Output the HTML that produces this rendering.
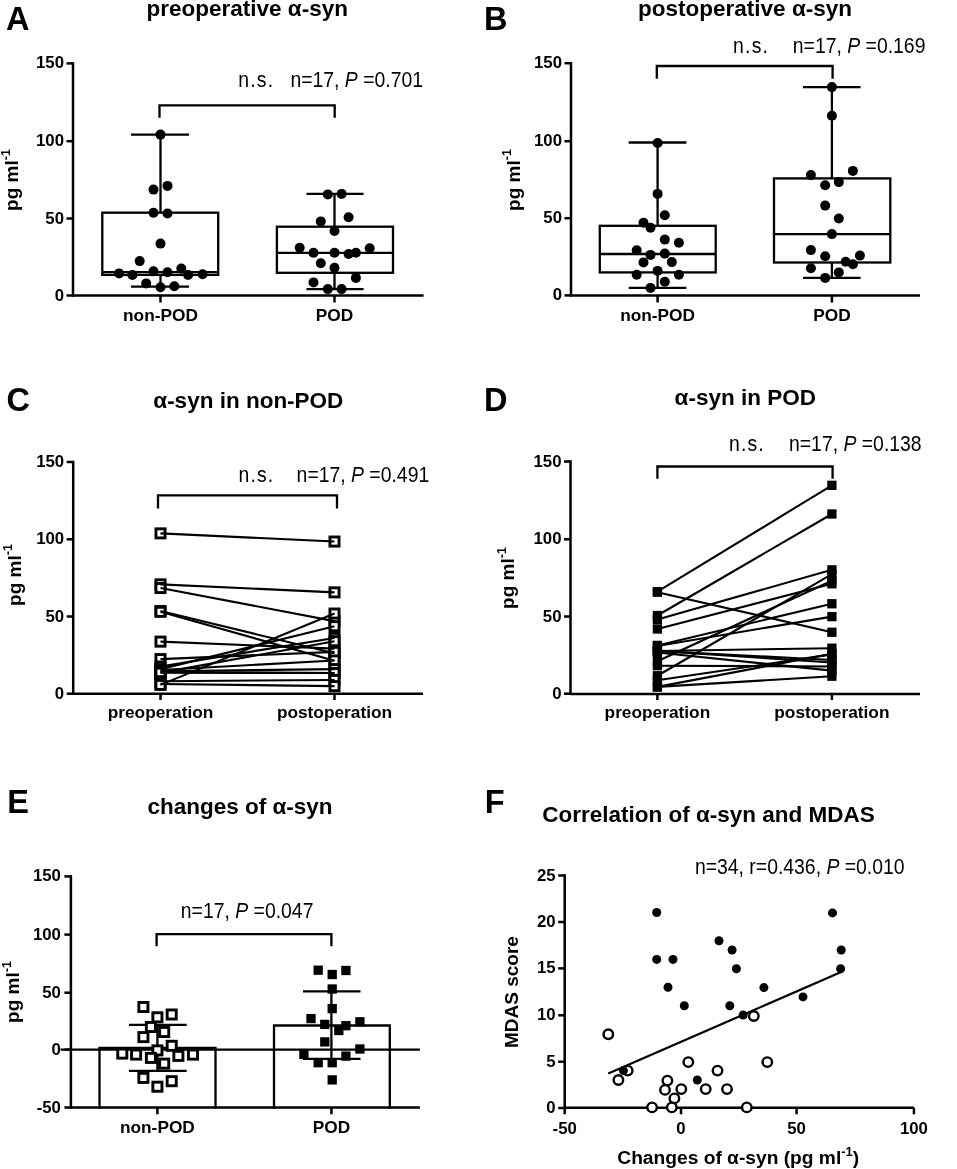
<!DOCTYPE html>
<html><head><meta charset="utf-8"><style>
html,body{margin:0;padding:0;background:#fff;}
svg{display:block;will-change:transform;}
text{font-family:"Liberation Sans", sans-serif;fill:#000;}
</style></head><body>
<svg width="957" height="1169" viewBox="0 0 957 1169">
<rect x="0" y="0" width="957" height="1169" fill="#fff"/>
<text x="6.00" y="29.60" font-size="32.5" font-weight="bold" text-anchor="start" >A</text>
<text x="146.50" y="15.50" font-size="22.5" font-weight="bold" text-anchor="start" >preoperative α-syn</text>
<line x1="73.00" y1="62.15" x2="73.00" y2="296.75" stroke="#000" stroke-width="2.5"/>
<line x1="66.50" y1="63.40" x2="73.00" y2="63.40" stroke="#000" stroke-width="2.5"/>
<text x="64.00" y="68.41" font-size="16.8" font-weight="bold" text-anchor="end" >150</text>
<line x1="66.50" y1="141.20" x2="73.00" y2="141.20" stroke="#000" stroke-width="2.5"/>
<text x="64.00" y="146.21" font-size="16.8" font-weight="bold" text-anchor="end" >100</text>
<line x1="66.50" y1="218.50" x2="73.00" y2="218.50" stroke="#000" stroke-width="2.5"/>
<text x="64.00" y="223.51" font-size="16.8" font-weight="bold" text-anchor="end" >50</text>
<line x1="66.50" y1="295.50" x2="73.00" y2="295.50" stroke="#000" stroke-width="2.5"/>
<text x="64.00" y="300.51" font-size="16.8" font-weight="bold" text-anchor="end" >0</text>
<line x1="73.00" y1="295.50" x2="423.60" y2="295.50" stroke="#000" stroke-width="2.5"/>
<line x1="160.50" y1="295.50" x2="160.50" y2="302.50" stroke="#000" stroke-width="2.5"/>
<line x1="334.50" y1="295.50" x2="334.50" y2="302.50" stroke="#000" stroke-width="2.5"/>
<text x="160.50" y="321.00" font-size="17.3" font-weight="bold" text-anchor="middle" >non-POD</text>
<text x="334.50" y="321.00" font-size="17.3" font-weight="bold" text-anchor="middle" >POD</text>
<text transform="translate(18.00,180.00) rotate(-90)" font-size="19" font-weight="bold" text-anchor="middle">pg ml<tspan font-size="12.5" dy="-8.5">-1</tspan></text>
<rect x="102.30" y="212.70" width="115.90" height="62.20" fill="none" stroke="#000" stroke-width="2.3"/>
<line x1="102.30" y1="272.10" x2="218.20" y2="272.10" stroke="#000" stroke-width="2.3"/>
<line x1="160.50" y1="134.60" x2="160.50" y2="212.70" stroke="#000" stroke-width="2.3"/>
<line x1="160.50" y1="274.90" x2="160.50" y2="286.70" stroke="#000" stroke-width="2.3"/>
<line x1="131.00" y1="134.60" x2="189.00" y2="134.60" stroke="#000" stroke-width="2.3"/>
<line x1="131.00" y1="286.70" x2="189.00" y2="286.70" stroke="#000" stroke-width="2.3"/>
<rect x="276.90" y="226.70" width="116.10" height="46.10" fill="none" stroke="#000" stroke-width="2.3"/>
<line x1="276.90" y1="252.80" x2="393.00" y2="252.80" stroke="#000" stroke-width="2.3"/>
<line x1="334.50" y1="193.90" x2="334.50" y2="226.70" stroke="#000" stroke-width="2.3"/>
<line x1="334.50" y1="272.80" x2="334.50" y2="289.10" stroke="#000" stroke-width="2.3"/>
<line x1="306.50" y1="193.90" x2="363.60" y2="193.90" stroke="#000" stroke-width="2.3"/>
<line x1="306.50" y1="289.10" x2="363.60" y2="289.10" stroke="#000" stroke-width="2.3"/>
<circle cx="160.50" cy="134.60" r="5.0" fill="#000"/>
<circle cx="153.50" cy="189.60" r="5.0" fill="#000"/>
<circle cx="167.50" cy="185.90" r="5.0" fill="#000"/>
<circle cx="153.50" cy="212.70" r="5.0" fill="#000"/>
<circle cx="167.50" cy="213.50" r="5.0" fill="#000"/>
<circle cx="160.50" cy="243.60" r="5.0" fill="#000"/>
<circle cx="139.70" cy="261.10" r="5.0" fill="#000"/>
<circle cx="119.10" cy="273.40" r="5.0" fill="#000"/>
<circle cx="132.40" cy="274.90" r="5.0" fill="#000"/>
<circle cx="153.50" cy="271.20" r="5.0" fill="#000"/>
<circle cx="167.50" cy="272.20" r="5.0" fill="#000"/>
<circle cx="181.30" cy="268.60" r="5.0" fill="#000"/>
<circle cx="188.10" cy="274.90" r="5.0" fill="#000"/>
<circle cx="202.60" cy="274.20" r="5.0" fill="#000"/>
<circle cx="146.20" cy="283.40" r="5.0" fill="#000"/>
<circle cx="160.50" cy="287.20" r="5.0" fill="#000"/>
<circle cx="174.30" cy="286.20" r="5.0" fill="#000"/>
<circle cx="327.80" cy="194.40" r="5.0" fill="#000"/>
<circle cx="341.60" cy="193.90" r="5.0" fill="#000"/>
<circle cx="320.80" cy="221.40" r="5.0" fill="#000"/>
<circle cx="348.60" cy="217.20" r="5.0" fill="#000"/>
<circle cx="334.50" cy="231.00" r="5.0" fill="#000"/>
<circle cx="299.70" cy="247.80" r="5.0" fill="#000"/>
<circle cx="313.50" cy="252.80" r="5.0" fill="#000"/>
<circle cx="334.50" cy="252.80" r="5.0" fill="#000"/>
<circle cx="348.60" cy="254.00" r="5.0" fill="#000"/>
<circle cx="355.90" cy="252.80" r="5.0" fill="#000"/>
<circle cx="369.70" cy="248.30" r="5.0" fill="#000"/>
<circle cx="320.80" cy="263.30" r="5.0" fill="#000"/>
<circle cx="334.50" cy="267.80" r="5.0" fill="#000"/>
<circle cx="313.50" cy="282.40" r="5.0" fill="#000"/>
<circle cx="355.90" cy="277.90" r="5.0" fill="#000"/>
<circle cx="327.80" cy="289.10" r="5.0" fill="#000"/>
<circle cx="341.60" cy="289.10" r="5.0" fill="#000"/>
<polyline points="159.50,116.50 159.50,105.30 334.70,105.30 334.70,116.50" fill="none" stroke="#000" stroke-width="2.3" stroke-linecap="square"/>
<text transform="translate(238.20,86.60) scale(1,1.09)" font-size="19.4" letter-spacing="1.2">n.s.</text>
<text transform="translate(290.40,86.50) scale(1,1.09)" font-size="19.4" >n=17, <tspan font-style="italic">P</tspan> =0.701</text>
<text x="484.00" y="29.60" font-size="32.5" font-weight="bold" text-anchor="start" >B</text>
<text x="638.10" y="15.50" font-size="22.5" font-weight="bold" text-anchor="start" >postoperative α-syn</text>
<line x1="571.00" y1="61.95" x2="571.00" y2="296.65" stroke="#000" stroke-width="2.5"/>
<line x1="564.50" y1="63.20" x2="571.00" y2="63.20" stroke="#000" stroke-width="2.5"/>
<text x="562.00" y="68.21" font-size="16.8" font-weight="bold" text-anchor="end" >150</text>
<line x1="564.50" y1="141.20" x2="571.00" y2="141.20" stroke="#000" stroke-width="2.5"/>
<text x="562.00" y="146.21" font-size="16.8" font-weight="bold" text-anchor="end" >100</text>
<line x1="564.50" y1="218.20" x2="571.00" y2="218.20" stroke="#000" stroke-width="2.5"/>
<text x="562.00" y="223.21" font-size="16.8" font-weight="bold" text-anchor="end" >50</text>
<line x1="564.50" y1="295.40" x2="571.00" y2="295.40" stroke="#000" stroke-width="2.5"/>
<text x="562.00" y="300.41" font-size="16.8" font-weight="bold" text-anchor="end" >0</text>
<line x1="571.00" y1="295.40" x2="920.00" y2="295.40" stroke="#000" stroke-width="2.5"/>
<line x1="657.60" y1="295.40" x2="657.60" y2="302.50" stroke="#000" stroke-width="2.5"/>
<line x1="831.90" y1="295.40" x2="831.90" y2="302.50" stroke="#000" stroke-width="2.5"/>
<text x="657.60" y="321.00" font-size="17.3" font-weight="bold" text-anchor="middle" >non-POD</text>
<text x="831.90" y="321.00" font-size="17.3" font-weight="bold" text-anchor="middle" >POD</text>
<text transform="translate(519.80,180.00) rotate(-90)" font-size="19" font-weight="bold" text-anchor="middle">pg ml<tspan font-size="12.5" dy="-8.5">-1</tspan></text>
<rect x="599.80" y="225.80" width="115.90" height="46.60" fill="none" stroke="#000" stroke-width="2.3"/>
<line x1="599.80" y1="254.00" x2="715.70" y2="254.00" stroke="#000" stroke-width="2.3"/>
<line x1="657.60" y1="142.50" x2="657.60" y2="225.80" stroke="#000" stroke-width="2.3"/>
<line x1="657.60" y1="272.40" x2="657.60" y2="287.90" stroke="#000" stroke-width="2.3"/>
<line x1="628.70" y1="142.50" x2="686.40" y2="142.50" stroke="#000" stroke-width="2.3"/>
<line x1="628.70" y1="287.90" x2="686.40" y2="287.90" stroke="#000" stroke-width="2.3"/>
<rect x="774.00" y="178.40" width="116.30" height="84.10" fill="none" stroke="#000" stroke-width="2.3"/>
<line x1="774.00" y1="234.10" x2="890.30" y2="234.10" stroke="#000" stroke-width="2.3"/>
<line x1="831.90" y1="87.10" x2="831.90" y2="178.40" stroke="#000" stroke-width="2.3"/>
<line x1="831.90" y1="262.50" x2="831.90" y2="277.90" stroke="#000" stroke-width="2.3"/>
<line x1="803.00" y1="87.10" x2="860.60" y2="87.10" stroke="#000" stroke-width="2.3"/>
<line x1="803.00" y1="277.90" x2="860.60" y2="277.90" stroke="#000" stroke-width="2.3"/>
<circle cx="657.60" cy="143.00" r="5.0" fill="#000"/>
<circle cx="657.60" cy="193.90" r="5.0" fill="#000"/>
<circle cx="664.80" cy="215.20" r="5.0" fill="#000"/>
<circle cx="643.50" cy="222.80" r="5.0" fill="#000"/>
<circle cx="650.50" cy="227.80" r="5.0" fill="#000"/>
<circle cx="664.80" cy="239.60" r="5.0" fill="#000"/>
<circle cx="678.90" cy="242.80" r="5.0" fill="#000"/>
<circle cx="636.70" cy="250.30" r="5.0" fill="#000"/>
<circle cx="650.50" cy="254.90" r="5.0" fill="#000"/>
<circle cx="664.80" cy="253.60" r="5.0" fill="#000"/>
<circle cx="643.50" cy="262.40" r="5.0" fill="#000"/>
<circle cx="671.80" cy="262.10" r="5.0" fill="#000"/>
<circle cx="636.70" cy="274.70" r="5.0" fill="#000"/>
<circle cx="657.60" cy="270.90" r="5.0" fill="#000"/>
<circle cx="678.90" cy="274.70" r="5.0" fill="#000"/>
<circle cx="664.80" cy="281.70" r="5.0" fill="#000"/>
<circle cx="650.50" cy="287.90" r="5.0" fill="#000"/>
<circle cx="831.90" cy="87.10" r="5.0" fill="#000"/>
<circle cx="831.90" cy="115.80" r="5.0" fill="#000"/>
<circle cx="810.90" cy="175.10" r="5.0" fill="#000"/>
<circle cx="852.90" cy="170.90" r="5.0" fill="#000"/>
<circle cx="825.20" cy="185.30" r="5.0" fill="#000"/>
<circle cx="838.80" cy="182.10" r="5.0" fill="#000"/>
<circle cx="825.20" cy="205.60" r="5.0" fill="#000"/>
<circle cx="838.80" cy="218.50" r="5.0" fill="#000"/>
<circle cx="831.90" cy="234.10" r="5.0" fill="#000"/>
<circle cx="810.90" cy="250.10" r="5.0" fill="#000"/>
<circle cx="825.20" cy="256.30" r="5.0" fill="#000"/>
<circle cx="859.90" cy="255.60" r="5.0" fill="#000"/>
<circle cx="845.70" cy="261.80" r="5.0" fill="#000"/>
<circle cx="852.90" cy="264.30" r="5.0" fill="#000"/>
<circle cx="810.90" cy="268.20" r="5.0" fill="#000"/>
<circle cx="838.80" cy="272.40" r="5.0" fill="#000"/>
<circle cx="825.20" cy="277.90" r="5.0" fill="#000"/>
<polyline points="656.80,77.50 656.80,66.00 832.60,66.00 832.60,77.50" fill="none" stroke="#000" stroke-width="2.3" stroke-linecap="square"/>
<text transform="translate(733.10,53.20) scale(1,1.09)" font-size="19.4" letter-spacing="1.2">n.s.</text>
<text transform="translate(792.80,53.20) scale(1,1.09)" font-size="19.4" >n=17, <tspan font-style="italic">P</tspan> =0.169</text>
<text x="6.50" y="411.40" font-size="32.5" font-weight="bold" text-anchor="start" >C</text>
<text x="153.30" y="408.00" font-size="22.5" font-weight="bold" text-anchor="start" >α-syn in non-POD</text>
<line x1="73.20" y1="460.75" x2="73.20" y2="694.95" stroke="#000" stroke-width="2.5"/>
<line x1="66.70" y1="462.00" x2="73.20" y2="462.00" stroke="#000" stroke-width="2.5"/>
<text x="64.20" y="467.01" font-size="16.8" font-weight="bold" text-anchor="end" >150</text>
<line x1="66.70" y1="539.30" x2="73.20" y2="539.30" stroke="#000" stroke-width="2.5"/>
<text x="64.20" y="544.31" font-size="16.8" font-weight="bold" text-anchor="end" >100</text>
<line x1="66.70" y1="616.50" x2="73.20" y2="616.50" stroke="#000" stroke-width="2.5"/>
<text x="64.20" y="621.51" font-size="16.8" font-weight="bold" text-anchor="end" >50</text>
<line x1="66.70" y1="693.70" x2="73.20" y2="693.70" stroke="#000" stroke-width="2.5"/>
<text x="64.20" y="698.71" font-size="16.8" font-weight="bold" text-anchor="end" >0</text>
<line x1="73.20" y1="693.70" x2="423.00" y2="693.70" stroke="#000" stroke-width="2.5"/>
<line x1="160.50" y1="693.70" x2="160.50" y2="700.00" stroke="#000" stroke-width="2.5"/>
<line x1="334.50" y1="693.70" x2="334.50" y2="700.00" stroke="#000" stroke-width="2.5"/>
<text x="160.50" y="718.00" font-size="17.3" font-weight="bold" text-anchor="middle" >preoperation</text>
<text x="334.50" y="718.00" font-size="17.3" font-weight="bold" text-anchor="middle" >postoperation</text>
<text transform="translate(20.50,575.00) rotate(-90)" font-size="19" font-weight="bold" text-anchor="middle">pg ml<tspan font-size="12.5" dy="-8.5">-1</tspan></text>
<rect x="155.95" y="528.81" width="9.10" height="9.10" fill="#fff" stroke="#000" stroke-width="2.9"/>
<rect x="329.95" y="537.00" width="9.10" height="9.10" fill="#fff" stroke="#000" stroke-width="2.9"/>
<rect x="155.95" y="579.79" width="9.10" height="9.10" fill="#fff" stroke="#000" stroke-width="2.9"/>
<rect x="329.95" y="587.82" width="9.10" height="9.10" fill="#fff" stroke="#000" stroke-width="2.9"/>
<rect x="155.95" y="583.49" width="9.10" height="9.10" fill="#fff" stroke="#000" stroke-width="2.9"/>
<rect x="329.95" y="616.55" width="9.10" height="9.10" fill="#fff" stroke="#000" stroke-width="2.9"/>
<rect x="155.95" y="606.51" width="9.10" height="9.10" fill="#fff" stroke="#000" stroke-width="2.9"/>
<rect x="329.95" y="648.68" width="9.10" height="9.10" fill="#fff" stroke="#000" stroke-width="2.9"/>
<rect x="155.95" y="607.28" width="9.10" height="9.10" fill="#fff" stroke="#000" stroke-width="2.9"/>
<rect x="329.95" y="656.09" width="9.10" height="9.10" fill="#fff" stroke="#000" stroke-width="2.9"/>
<rect x="155.95" y="637.09" width="9.10" height="9.10" fill="#fff" stroke="#000" stroke-width="2.9"/>
<rect x="329.95" y="644.05" width="9.10" height="9.10" fill="#fff" stroke="#000" stroke-width="2.9"/>
<rect x="155.95" y="654.55" width="9.10" height="9.10" fill="#fff" stroke="#000" stroke-width="2.9"/>
<rect x="329.95" y="647.29" width="9.10" height="9.10" fill="#fff" stroke="#000" stroke-width="2.9"/>
<rect x="155.95" y="661.96" width="9.10" height="9.10" fill="#fff" stroke="#000" stroke-width="2.9"/>
<rect x="329.95" y="633.39" width="9.10" height="9.10" fill="#fff" stroke="#000" stroke-width="2.9"/>
<rect x="155.95" y="664.59" width="9.10" height="9.10" fill="#fff" stroke="#000" stroke-width="2.9"/>
<rect x="329.95" y="621.65" width="9.10" height="9.10" fill="#fff" stroke="#000" stroke-width="2.9"/>
<rect x="155.95" y="665.52" width="9.10" height="9.10" fill="#fff" stroke="#000" stroke-width="2.9"/>
<rect x="329.95" y="655.94" width="9.10" height="9.10" fill="#fff" stroke="#000" stroke-width="2.9"/>
<rect x="155.95" y="666.75" width="9.10" height="9.10" fill="#fff" stroke="#000" stroke-width="2.9"/>
<rect x="329.95" y="664.59" width="9.10" height="9.10" fill="#fff" stroke="#000" stroke-width="2.9"/>
<rect x="155.95" y="667.52" width="9.10" height="9.10" fill="#fff" stroke="#000" stroke-width="2.9"/>
<rect x="329.95" y="668.45" width="9.10" height="9.10" fill="#fff" stroke="#000" stroke-width="2.9"/>
<rect x="155.95" y="668.14" width="9.10" height="9.10" fill="#fff" stroke="#000" stroke-width="2.9"/>
<rect x="329.95" y="636.63" width="9.10" height="9.10" fill="#fff" stroke="#000" stroke-width="2.9"/>
<rect x="155.95" y="668.14" width="9.10" height="9.10" fill="#fff" stroke="#000" stroke-width="2.9"/>
<rect x="329.95" y="668.45" width="9.10" height="9.10" fill="#fff" stroke="#000" stroke-width="2.9"/>
<rect x="155.95" y="676.64" width="9.10" height="9.10" fill="#fff" stroke="#000" stroke-width="2.9"/>
<rect x="329.95" y="675.40" width="9.10" height="9.10" fill="#fff" stroke="#000" stroke-width="2.9"/>
<rect x="155.95" y="679.42" width="9.10" height="9.10" fill="#fff" stroke="#000" stroke-width="2.9"/>
<rect x="329.95" y="681.58" width="9.10" height="9.10" fill="#fff" stroke="#000" stroke-width="2.9"/>
<rect x="155.95" y="680.35" width="9.10" height="9.10" fill="#fff" stroke="#000" stroke-width="2.9"/>
<rect x="329.95" y="608.98" width="9.10" height="9.10" fill="#fff" stroke="#000" stroke-width="2.9"/>
<line x1="160.50" y1="533.36" x2="334.50" y2="541.55" stroke="#000" stroke-width="2.1"/>
<line x1="160.50" y1="584.34" x2="334.50" y2="592.37" stroke="#000" stroke-width="2.1"/>
<line x1="160.50" y1="588.04" x2="334.50" y2="621.10" stroke="#000" stroke-width="2.1"/>
<line x1="160.50" y1="611.06" x2="334.50" y2="653.23" stroke="#000" stroke-width="2.1"/>
<line x1="160.50" y1="611.83" x2="334.50" y2="660.64" stroke="#000" stroke-width="2.1"/>
<line x1="160.50" y1="641.64" x2="334.50" y2="648.60" stroke="#000" stroke-width="2.1"/>
<line x1="160.50" y1="659.10" x2="334.50" y2="651.84" stroke="#000" stroke-width="2.1"/>
<line x1="160.50" y1="666.51" x2="334.50" y2="637.94" stroke="#000" stroke-width="2.1"/>
<line x1="160.50" y1="669.14" x2="334.50" y2="626.20" stroke="#000" stroke-width="2.1"/>
<line x1="160.50" y1="670.07" x2="334.50" y2="660.49" stroke="#000" stroke-width="2.1"/>
<line x1="160.50" y1="671.30" x2="334.50" y2="669.14" stroke="#000" stroke-width="2.1"/>
<line x1="160.50" y1="672.07" x2="334.50" y2="673.00" stroke="#000" stroke-width="2.1"/>
<line x1="160.50" y1="672.69" x2="334.50" y2="641.18" stroke="#000" stroke-width="2.1"/>
<line x1="160.50" y1="672.69" x2="334.50" y2="673.00" stroke="#000" stroke-width="2.1"/>
<line x1="160.50" y1="681.19" x2="334.50" y2="679.95" stroke="#000" stroke-width="2.1"/>
<line x1="160.50" y1="683.97" x2="334.50" y2="686.13" stroke="#000" stroke-width="2.1"/>
<line x1="160.50" y1="684.90" x2="334.50" y2="613.53" stroke="#000" stroke-width="2.1"/>
<polyline points="158.00,507.30 158.00,495.30 337.00,495.30 337.00,507.30" fill="none" stroke="#000" stroke-width="2.3" stroke-linecap="square"/>
<text transform="translate(238.40,481.50) scale(1,1.09)" font-size="19.4" letter-spacing="1.2">n.s.</text>
<text transform="translate(296.60,481.50) scale(1,1.09)" font-size="19.4" >n=17, <tspan font-style="italic">P</tspan> =0.491</text>
<text x="484.00" y="411.40" font-size="32.5" font-weight="bold" text-anchor="start" >D</text>
<text x="674.60" y="404.80" font-size="22.5" font-weight="bold" text-anchor="start" >α-syn in POD</text>
<line x1="570.50" y1="460.25" x2="570.50" y2="694.95" stroke="#000" stroke-width="2.5"/>
<line x1="564.00" y1="461.50" x2="570.50" y2="461.50" stroke="#000" stroke-width="2.5"/>
<text x="561.50" y="466.51" font-size="16.8" font-weight="bold" text-anchor="end" >150</text>
<line x1="564.00" y1="539.30" x2="570.50" y2="539.30" stroke="#000" stroke-width="2.5"/>
<text x="561.50" y="544.31" font-size="16.8" font-weight="bold" text-anchor="end" >100</text>
<line x1="564.00" y1="616.50" x2="570.50" y2="616.50" stroke="#000" stroke-width="2.5"/>
<text x="561.50" y="621.51" font-size="16.8" font-weight="bold" text-anchor="end" >50</text>
<line x1="564.00" y1="693.70" x2="570.50" y2="693.70" stroke="#000" stroke-width="2.5"/>
<text x="561.50" y="698.71" font-size="16.8" font-weight="bold" text-anchor="end" >0</text>
<line x1="570.50" y1="693.90" x2="920.00" y2="693.90" stroke="#000" stroke-width="2.5"/>
<line x1="657.40" y1="693.90" x2="657.40" y2="700.00" stroke="#000" stroke-width="2.5"/>
<line x1="831.90" y1="693.90" x2="831.90" y2="700.00" stroke="#000" stroke-width="2.5"/>
<text x="657.40" y="718.00" font-size="17.3" font-weight="bold" text-anchor="middle" >preoperation</text>
<text x="831.90" y="718.00" font-size="17.3" font-weight="bold" text-anchor="middle" >postoperation</text>
<text transform="translate(514.10,578.00) rotate(-90)" font-size="19" font-weight="bold" text-anchor="middle">pg ml<tspan font-size="12.5" dy="-8.5">-1</tspan></text>
<rect x="652.75" y="587.04" width="9.30" height="9.30" fill="#000"/>
<rect x="827.25" y="480.69" width="9.30" height="9.30" fill="#000"/>
<rect x="652.75" y="587.50" width="9.30" height="9.30" fill="#000"/>
<rect x="827.25" y="627.59" width="9.30" height="9.30" fill="#000"/>
<rect x="652.75" y="610.88" width="9.30" height="9.30" fill="#000"/>
<rect x="827.25" y="509.33" width="9.30" height="9.30" fill="#000"/>
<rect x="652.75" y="614.90" width="9.30" height="9.30" fill="#000"/>
<rect x="827.25" y="565.21" width="9.30" height="9.30" fill="#000"/>
<rect x="652.75" y="624.34" width="9.30" height="9.30" fill="#000"/>
<rect x="827.25" y="579.14" width="9.30" height="9.30" fill="#000"/>
<rect x="652.75" y="640.75" width="9.30" height="9.30" fill="#000"/>
<rect x="827.25" y="599.11" width="9.30" height="9.30" fill="#000"/>
<rect x="652.75" y="641.37" width="9.30" height="9.30" fill="#000"/>
<rect x="827.25" y="611.96" width="9.30" height="9.30" fill="#000"/>
<rect x="652.75" y="656.54" width="9.30" height="9.30" fill="#000"/>
<rect x="827.25" y="576.05" width="9.30" height="9.30" fill="#000"/>
<rect x="652.75" y="671.09" width="9.30" height="9.30" fill="#000"/>
<rect x="827.25" y="569.54" width="9.30" height="9.30" fill="#000"/>
<rect x="652.75" y="646.33" width="9.30" height="9.30" fill="#000"/>
<rect x="827.25" y="643.54" width="9.30" height="9.30" fill="#000"/>
<rect x="652.75" y="661.03" width="9.30" height="9.30" fill="#000"/>
<rect x="827.25" y="661.81" width="9.30" height="9.30" fill="#000"/>
<rect x="652.75" y="646.33" width="9.30" height="9.30" fill="#000"/>
<rect x="827.25" y="657.78" width="9.30" height="9.30" fill="#000"/>
<rect x="652.75" y="647.87" width="9.30" height="9.30" fill="#000"/>
<rect x="827.25" y="665.98" width="9.30" height="9.30" fill="#000"/>
<rect x="652.75" y="675.58" width="9.30" height="9.30" fill="#000"/>
<rect x="827.25" y="649.73" width="9.30" height="9.30" fill="#000"/>
<rect x="652.75" y="682.24" width="9.30" height="9.30" fill="#000"/>
<rect x="827.25" y="649.11" width="9.30" height="9.30" fill="#000"/>
<rect x="652.75" y="682.24" width="9.30" height="9.30" fill="#000"/>
<rect x="827.25" y="671.56" width="9.30" height="9.30" fill="#000"/>
<rect x="652.75" y="646.33" width="9.30" height="9.30" fill="#000"/>
<rect x="827.25" y="655.30" width="9.30" height="9.30" fill="#000"/>
<line x1="657.40" y1="591.69" x2="831.90" y2="485.34" stroke="#000" stroke-width="2.1"/>
<line x1="657.40" y1="592.15" x2="831.90" y2="632.24" stroke="#000" stroke-width="2.1"/>
<line x1="657.40" y1="615.53" x2="831.90" y2="513.98" stroke="#000" stroke-width="2.1"/>
<line x1="657.40" y1="619.55" x2="831.90" y2="569.86" stroke="#000" stroke-width="2.1"/>
<line x1="657.40" y1="628.99" x2="831.90" y2="583.79" stroke="#000" stroke-width="2.1"/>
<line x1="657.40" y1="645.40" x2="831.90" y2="603.76" stroke="#000" stroke-width="2.1"/>
<line x1="657.40" y1="646.02" x2="831.90" y2="616.61" stroke="#000" stroke-width="2.1"/>
<line x1="657.40" y1="661.19" x2="831.90" y2="580.70" stroke="#000" stroke-width="2.1"/>
<line x1="657.40" y1="675.74" x2="831.90" y2="574.19" stroke="#000" stroke-width="2.1"/>
<line x1="657.40" y1="650.98" x2="831.90" y2="648.19" stroke="#000" stroke-width="2.1"/>
<line x1="657.40" y1="665.68" x2="831.90" y2="666.46" stroke="#000" stroke-width="2.1"/>
<line x1="657.40" y1="650.98" x2="831.90" y2="662.43" stroke="#000" stroke-width="2.1"/>
<line x1="657.40" y1="652.52" x2="831.90" y2="670.63" stroke="#000" stroke-width="2.1"/>
<line x1="657.40" y1="680.23" x2="831.90" y2="654.38" stroke="#000" stroke-width="2.1"/>
<line x1="657.40" y1="686.89" x2="831.90" y2="653.76" stroke="#000" stroke-width="2.1"/>
<line x1="657.40" y1="686.89" x2="831.90" y2="676.21" stroke="#000" stroke-width="2.1"/>
<line x1="657.40" y1="650.98" x2="831.90" y2="659.95" stroke="#000" stroke-width="2.1"/>
<polyline points="657.40,477.70 657.40,466.50 832.60,466.50 832.60,477.70" fill="none" stroke="#000" stroke-width="2.3" stroke-linecap="square"/>
<text transform="translate(728.90,451.20) scale(1,1.09)" font-size="19.4" letter-spacing="1.2">n.s.</text>
<text transform="translate(789.00,451.20) scale(1,1.09)" font-size="19.4" >n=17, <tspan font-style="italic">P</tspan> =0.138</text>
<text x="7.30" y="813.10" font-size="32.5" font-weight="bold" text-anchor="start" >E</text>
<text x="147.40" y="814.40" font-size="22.5" font-weight="bold" text-anchor="start" >changes of α-syn</text>
<line x1="70.90" y1="875.15" x2="70.90" y2="1108.75" stroke="#000" stroke-width="2.5"/>
<line x1="64.40" y1="876.40" x2="70.90" y2="876.40" stroke="#000" stroke-width="2.5"/>
<text x="60.90" y="881.41" font-size="16.8" font-weight="bold" text-anchor="end" >150</text>
<line x1="64.40" y1="934.60" x2="70.90" y2="934.60" stroke="#000" stroke-width="2.5"/>
<text x="60.90" y="939.61" font-size="16.8" font-weight="bold" text-anchor="end" >100</text>
<line x1="64.40" y1="992.70" x2="70.90" y2="992.70" stroke="#000" stroke-width="2.5"/>
<text x="60.90" y="997.71" font-size="16.8" font-weight="bold" text-anchor="end" >50</text>
<line x1="64.40" y1="1049.60" x2="70.90" y2="1049.60" stroke="#000" stroke-width="2.5"/>
<text x="60.90" y="1054.61" font-size="16.8" font-weight="bold" text-anchor="end" >0</text>
<line x1="64.40" y1="1107.50" x2="70.90" y2="1107.50" stroke="#000" stroke-width="2.5"/>
<text x="60.90" y="1112.51" font-size="16.8" font-weight="bold" text-anchor="end" >-50</text>
<line x1="70.90" y1="1107.60" x2="419.90" y2="1107.60" stroke="#000" stroke-width="2.5"/>
<line x1="60.50" y1="1049.70" x2="419.90" y2="1049.70" stroke="#000" stroke-width="2.3"/>
<line x1="157.40" y1="1107.60" x2="157.40" y2="1114.30" stroke="#000" stroke-width="2.5"/>
<line x1="331.40" y1="1107.60" x2="331.40" y2="1114.30" stroke="#000" stroke-width="2.5"/>
<text x="157.40" y="1133.00" font-size="17.3" font-weight="bold" text-anchor="middle" >non-POD</text>
<text x="331.40" y="1133.00" font-size="17.3" font-weight="bold" text-anchor="middle" >POD</text>
<text transform="translate(19.30,992.00) rotate(-90)" font-size="19" font-weight="bold" text-anchor="middle">pg ml<tspan font-size="12.5" dy="-8.5">-1</tspan></text>
<polyline points="99.50,1107.60 99.50,1047.80 215.50,1047.80 215.50,1107.60" fill="none" stroke="#000" stroke-width="2.3" stroke-linecap="square"/>
<polyline points="274.00,1107.60 274.00,1025.50 389.80,1025.50 389.80,1107.60" fill="none" stroke="#000" stroke-width="2.3" stroke-linecap="square"/>
<line x1="157.40" y1="1024.80" x2="157.40" y2="1070.90" stroke="#000" stroke-width="2.3"/>
<line x1="129.00" y1="1024.80" x2="186.70" y2="1024.80" stroke="#000" stroke-width="2.3"/>
<line x1="129.00" y1="1070.90" x2="186.70" y2="1070.90" stroke="#000" stroke-width="2.3"/>
<line x1="331.40" y1="991.40" x2="331.40" y2="1058.80" stroke="#000" stroke-width="2.3"/>
<line x1="303.00" y1="991.40" x2="360.50" y2="991.40" stroke="#000" stroke-width="2.3"/>
<line x1="303.00" y1="1058.80" x2="360.50" y2="1058.80" stroke="#000" stroke-width="2.3"/>
<rect x="138.85" y="1002.45" width="9.10" height="9.10" fill="#fff" stroke="#000" stroke-width="2.9"/>
<rect x="152.85" y="1012.75" width="9.10" height="9.10" fill="#fff" stroke="#000" stroke-width="2.9"/>
<rect x="167.15" y="1009.95" width="9.10" height="9.10" fill="#fff" stroke="#000" stroke-width="2.9"/>
<rect x="146.35" y="1022.45" width="9.10" height="9.10" fill="#fff" stroke="#000" stroke-width="2.9"/>
<rect x="159.65" y="1027.45" width="9.10" height="9.10" fill="#fff" stroke="#000" stroke-width="2.9"/>
<rect x="138.85" y="1032.55" width="9.10" height="9.10" fill="#fff" stroke="#000" stroke-width="2.9"/>
<rect x="167.15" y="1041.25" width="9.10" height="9.10" fill="#fff" stroke="#000" stroke-width="2.9"/>
<rect x="152.85" y="1045.85" width="9.10" height="9.10" fill="#fff" stroke="#000" stroke-width="2.9"/>
<rect x="117.75" y="1049.05" width="9.10" height="9.10" fill="#fff" stroke="#000" stroke-width="2.9"/>
<rect x="131.55" y="1050.05" width="9.10" height="9.10" fill="#fff" stroke="#000" stroke-width="2.9"/>
<rect x="146.35" y="1053.35" width="9.10" height="9.10" fill="#fff" stroke="#000" stroke-width="2.9"/>
<rect x="173.85" y="1051.35" width="9.10" height="9.10" fill="#fff" stroke="#000" stroke-width="2.9"/>
<rect x="188.45" y="1050.05" width="9.10" height="9.10" fill="#fff" stroke="#000" stroke-width="2.9"/>
<rect x="159.65" y="1059.05" width="9.10" height="9.10" fill="#fff" stroke="#000" stroke-width="2.9"/>
<rect x="138.85" y="1073.35" width="9.10" height="9.10" fill="#fff" stroke="#000" stroke-width="2.9"/>
<rect x="167.15" y="1076.65" width="9.10" height="9.10" fill="#fff" stroke="#000" stroke-width="2.9"/>
<rect x="152.85" y="1082.15" width="9.10" height="9.10" fill="#fff" stroke="#000" stroke-width="2.9"/>
<rect x="313.55" y="965.55" width="9.30" height="9.30" fill="#000"/>
<rect x="327.55" y="969.85" width="9.30" height="9.30" fill="#000"/>
<rect x="341.25" y="965.85" width="9.30" height="9.30" fill="#000"/>
<rect x="327.55" y="984.35" width="9.30" height="9.30" fill="#000"/>
<rect x="327.55" y="1003.95" width="9.30" height="9.30" fill="#000"/>
<rect x="306.35" y="1013.95" width="9.30" height="9.30" fill="#000"/>
<rect x="320.15" y="1019.75" width="9.30" height="9.30" fill="#000"/>
<rect x="334.15" y="1025.85" width="9.30" height="9.30" fill="#000"/>
<rect x="341.25" y="1021.05" width="9.30" height="9.30" fill="#000"/>
<rect x="355.25" y="1017.15" width="9.30" height="9.30" fill="#000"/>
<rect x="320.15" y="1037.25" width="9.30" height="9.30" fill="#000"/>
<rect x="355.25" y="1044.35" width="9.30" height="9.30" fill="#000"/>
<rect x="299.25" y="1049.65" width="9.30" height="9.30" fill="#000"/>
<rect x="313.55" y="1058.05" width="9.30" height="9.30" fill="#000"/>
<rect x="327.55" y="1058.05" width="9.30" height="9.30" fill="#000"/>
<rect x="341.25" y="1051.45" width="9.30" height="9.30" fill="#000"/>
<rect x="327.55" y="1075.25" width="9.30" height="9.30" fill="#000"/>
<polyline points="156.60,945.00 156.60,934.20 331.40,934.20 331.40,945.00" fill="none" stroke="#000" stroke-width="2.3" stroke-linecap="square"/>
<text transform="translate(180.80,918.10) scale(1,1.09)" font-size="19.4" >n=17, <tspan font-style="italic">P</tspan> =0.047</text>
<text x="484.80" y="813.10" font-size="32.5" font-weight="bold" text-anchor="start" >F</text>
<text x="542.20" y="822.00" font-size="22.5" font-weight="bold" text-anchor="start" >Correlation of α-syn and MDAS</text>
<line x1="564.70" y1="874.25" x2="564.70" y2="1108.95" stroke="#000" stroke-width="2.5"/>
<line x1="558.20" y1="875.50" x2="564.70" y2="875.50" stroke="#000" stroke-width="2.5"/>
<text x="555.70" y="880.51" font-size="16.8" font-weight="bold" text-anchor="end" >25</text>
<line x1="558.20" y1="922.00" x2="564.70" y2="922.00" stroke="#000" stroke-width="2.5"/>
<text x="555.70" y="927.01" font-size="16.8" font-weight="bold" text-anchor="end" >20</text>
<line x1="558.20" y1="968.40" x2="564.70" y2="968.40" stroke="#000" stroke-width="2.5"/>
<text x="555.70" y="973.41" font-size="16.8" font-weight="bold" text-anchor="end" >15</text>
<line x1="558.20" y1="1015.30" x2="564.70" y2="1015.30" stroke="#000" stroke-width="2.5"/>
<text x="555.70" y="1020.31" font-size="16.8" font-weight="bold" text-anchor="end" >10</text>
<line x1="558.20" y1="1061.70" x2="564.70" y2="1061.70" stroke="#000" stroke-width="2.5"/>
<text x="555.70" y="1066.71" font-size="16.8" font-weight="bold" text-anchor="end" >5</text>
<line x1="558.20" y1="1108.00" x2="564.70" y2="1108.00" stroke="#000" stroke-width="2.5"/>
<text x="555.70" y="1113.01" font-size="16.8" font-weight="bold" text-anchor="end" >0</text>
<line x1="564.70" y1="1107.70" x2="913.90" y2="1107.70" stroke="#000" stroke-width="2.5"/>
<line x1="564.70" y1="1107.70" x2="564.70" y2="1114.30" stroke="#000" stroke-width="2.5"/>
<text x="564.70" y="1133.80" font-size="16.8" font-weight="bold" text-anchor="middle" >-50</text>
<line x1="681.00" y1="1107.70" x2="681.00" y2="1114.30" stroke="#000" stroke-width="2.5"/>
<text x="681.00" y="1133.80" font-size="16.8" font-weight="bold" text-anchor="middle" >0</text>
<line x1="796.60" y1="1107.70" x2="796.60" y2="1114.30" stroke="#000" stroke-width="2.5"/>
<text x="796.60" y="1133.80" font-size="16.8" font-weight="bold" text-anchor="middle" >50</text>
<line x1="913.90" y1="1107.70" x2="913.90" y2="1114.30" stroke="#000" stroke-width="2.5"/>
<text x="913.90" y="1133.80" font-size="16.8" font-weight="bold" text-anchor="middle" >100</text>
<text transform="translate(517.80,992.10) rotate(-90)" font-size="19" font-weight="bold" text-anchor="middle">MDAS score</text>
<text x="617.30" y="1164.30" font-size="19.2" font-weight="bold" text-anchor="start" >Changes of α-syn (pg ml<tspan font-size="13" dy="-8.8">-1</tspan><tspan dy="8.8">)</tspan></text>
<line x1="608.30" y1="1073.50" x2="840.60" y2="972.30" stroke="#000" stroke-width="2.2"/>
<circle cx="608.30" cy="1034.30" r="4.75" fill="#fff" stroke="#000" stroke-width="2.4"/>
<circle cx="627.70" cy="1070.60" r="4.75" fill="#fff" stroke="#000" stroke-width="2.4"/>
<circle cx="618.40" cy="1080.00" r="4.75" fill="#fff" stroke="#000" stroke-width="2.4"/>
<circle cx="667.40" cy="1080.60" r="4.75" fill="#fff" stroke="#000" stroke-width="2.4"/>
<circle cx="665.00" cy="1089.90" r="4.75" fill="#fff" stroke="#000" stroke-width="2.4"/>
<circle cx="681.30" cy="1089.10" r="4.75" fill="#fff" stroke="#000" stroke-width="2.4"/>
<circle cx="674.40" cy="1098.40" r="4.75" fill="#fff" stroke="#000" stroke-width="2.4"/>
<circle cx="652.10" cy="1107.40" r="4.75" fill="#fff" stroke="#000" stroke-width="2.4"/>
<circle cx="671.80" cy="1107.40" r="4.75" fill="#fff" stroke="#000" stroke-width="2.4"/>
<circle cx="688.30" cy="1062.10" r="4.75" fill="#fff" stroke="#000" stroke-width="2.4"/>
<circle cx="717.50" cy="1070.60" r="4.75" fill="#fff" stroke="#000" stroke-width="2.4"/>
<circle cx="705.70" cy="1089.10" r="4.75" fill="#fff" stroke="#000" stroke-width="2.4"/>
<circle cx="727.00" cy="1089.10" r="4.75" fill="#fff" stroke="#000" stroke-width="2.4"/>
<circle cx="746.80" cy="1107.40" r="4.75" fill="#fff" stroke="#000" stroke-width="2.4"/>
<circle cx="767.30" cy="1062.10" r="4.75" fill="#fff" stroke="#000" stroke-width="2.4"/>
<circle cx="753.80" cy="1016.00" r="4.75" fill="#fff" stroke="#000" stroke-width="2.4"/>
<circle cx="656.70" cy="912.50" r="4.5" fill="#000"/>
<circle cx="656.70" cy="959.40" r="4.5" fill="#000"/>
<circle cx="673.00" cy="959.40" r="4.5" fill="#000"/>
<circle cx="668.00" cy="987.20" r="4.5" fill="#000"/>
<circle cx="684.30" cy="1005.80" r="4.5" fill="#000"/>
<circle cx="719.00" cy="940.80" r="4.5" fill="#000"/>
<circle cx="623.40" cy="1070.60" r="4.5" fill="#000"/>
<circle cx="697.30" cy="1080.00" r="4.5" fill="#000"/>
<circle cx="832.50" cy="912.90" r="4.5" fill="#000"/>
<circle cx="841.20" cy="950.00" r="4.5" fill="#000"/>
<circle cx="840.60" cy="968.80" r="4.5" fill="#000"/>
<circle cx="732.10" cy="950.00" r="4.5" fill="#000"/>
<circle cx="736.40" cy="968.80" r="4.5" fill="#000"/>
<circle cx="763.90" cy="987.60" r="4.5" fill="#000"/>
<circle cx="803.00" cy="996.90" r="4.5" fill="#000"/>
<circle cx="729.80" cy="1005.80" r="4.5" fill="#000"/>
<circle cx="743.10" cy="1015.10" r="4.5" fill="#000"/>
<text transform="translate(694.90,874.20) scale(1,1.09)" font-size="19.4" >n=34, r=0.436, <tspan font-style="italic">P</tspan> =0.010</text>
</svg>
</body></html>
